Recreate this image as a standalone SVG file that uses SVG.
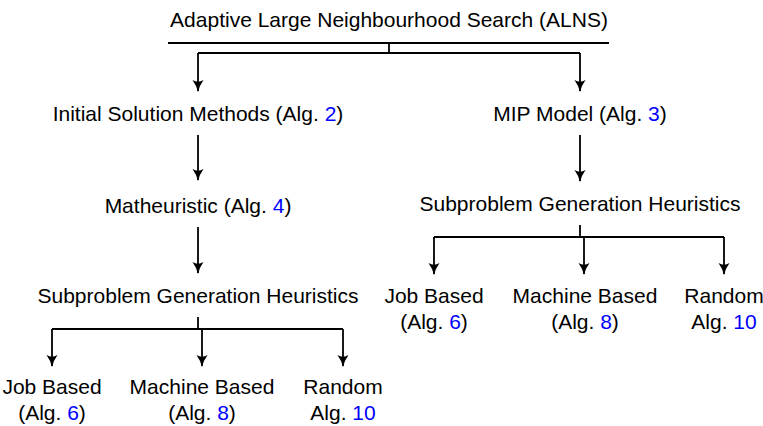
<svg xmlns="http://www.w3.org/2000/svg" width="763" height="426" viewBox="0 0 763 426">
<defs>
<style>
text{font-family:"Liberation Sans","DejaVu Sans",sans-serif;font-size:21px;fill:#000;text-anchor:middle}
.ref{fill:#0000ff}
.c{fill:none;stroke:#000;stroke-width:1.8}
</style>
<marker id="ah" viewBox="0 0 12 12" refX="11" refY="6" markerWidth="12" markerHeight="12" markerUnits="userSpaceOnUse" orient="auto">
<path d="M0,0.5 Q6,4.8 12,6 Q6,7.2 0,11.5 Q3.5,6 0,0.5Z" fill="#000"/>
</marker>
</defs>
<rect width="763" height="426" fill="#fff"/>
<g id="n-alns"><text x="389" y="27">Adaptive Large Neighbourhood Search (ALNS)</text></g>
<g id="n-init"><text x="198" y="121">Initial Solution Methods (Alg. <tspan class="ref">2</tspan>)</text></g>
<g id="n-mip"><text x="580" y="121">MIP Model (Alg. <tspan class="ref">3</tspan>)</text></g>
<g id="n-math"><text x="198" y="213">Matheuristic (Alg. <tspan class="ref">4</tspan>)</text></g>
<g id="n-sgh-l"><text x="198" y="303">Subproblem Generation Heuristics</text></g>
<g id="n-sgh-r"><text x="580" y="211">Subproblem Generation Heuristics</text></g>
<g id="n-job-l"><text x="52" y="394">Job Based</text><text x="52" y="420">(Alg. <tspan class="ref">6</tspan>)</text></g>
<g id="n-mach-l"><text x="202" y="394">Machine Based</text><text x="202" y="420">(Alg. <tspan class="ref">8</tspan>)</text></g>
<g id="n-rand-l"><text x="343" y="394">Random</text><text x="343" y="420">Alg. <tspan class="ref">10</tspan></text></g>
<g id="n-job-r"><text x="434" y="303">Job Based</text><text x="434" y="329">(Alg. <tspan class="ref">6</tspan>)</text></g>
<g id="n-mach-r"><text x="585" y="303">Machine Based</text><text x="585" y="329">(Alg. <tspan class="ref">8</tspan>)</text></g>
<g id="n-rand-r"><text x="724" y="303">Random</text><text x="724" y="329">Alg. <tspan class="ref">10</tspan></text></g>
<g id="connectors">
<line class="c" x1="168" y1="43" x2="609" y2="43"/>
<line class="c" x1="389" y1="43" x2="389" y2="53"/>
<line class="c" x1="198" y1="53" x2="580" y2="53"/>
<line class="c" x1="198" y1="53" x2="198" y2="91" marker-end="url(#ah)"/>
<line class="c" x1="580" y1="53" x2="580" y2="91" marker-end="url(#ah)"/>
<line class="c" x1="198" y1="135" x2="198" y2="180" marker-end="url(#ah)"/>
<line class="c" x1="198" y1="227" x2="198" y2="273" marker-end="url(#ah)"/>
<line class="c" x1="580" y1="135" x2="580" y2="181" marker-end="url(#ah)"/>
<line class="c" x1="198" y1="317" x2="198" y2="329"/>
<line class="c" x1="52" y1="329" x2="343" y2="329"/>
<line class="c" x1="52" y1="329" x2="52" y2="366" marker-end="url(#ah)"/>
<line class="c" x1="202" y1="329" x2="202" y2="366" marker-end="url(#ah)"/>
<line class="c" x1="343" y1="329" x2="343" y2="366" marker-end="url(#ah)"/>
<line class="c" x1="580" y1="225" x2="580" y2="237"/>
<line class="c" x1="434" y1="237" x2="724" y2="237"/>
<line class="c" x1="434" y1="237" x2="434" y2="274" marker-end="url(#ah)"/>
<line class="c" x1="584" y1="237" x2="584" y2="274" marker-end="url(#ah)"/>
<line class="c" x1="724" y1="237" x2="724" y2="274" marker-end="url(#ah)"/>
</g>
</svg>
